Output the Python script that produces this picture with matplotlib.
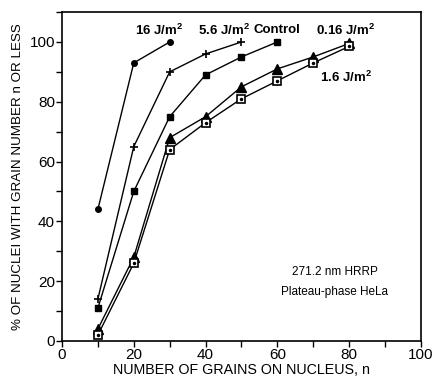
import matplotlib
matplotlib.use("Agg")
import matplotlib.pyplot as plt
from matplotlib.ticker import MultipleLocator

plt.rcParams['font.family'] = ['Liberation Sans', 'DejaVu Sans']
plt.rcParams['mathtext.default'] = 'regular'

x16 = [10, 20, 30]
y16 = [44, 93, 100]
x56 = [10, 20, 30, 40, 50]
y56 = [14, 65, 90, 96, 100]
xctl = [10, 20, 30, 40, 50, 60]
yctl = [11, 50, 75, 89, 95, 100]
x016 = [10, 20, 30, 40, 50, 60, 70, 80]
y016 = [4, 28, 68, 75, 85, 91, 95, 99.5]
x16b = [10, 20, 30, 40, 50, 60, 70, 80]
y16b = [2, 26, 64, 73, 81, 87, 93, 98.5]

series_labels = ["16 J/m$^2$", "5.6 J/m$^2$", "Control", "0.16 J/m$^2$", "1.6 J/m$^2$"]
label_pos = [(27, 104), (45, 104), (60, 104), (79, 104), (79, 88)]
xticks = [0, 20, 40, 60, 80, 100]
yticks = [0, 20, 40, 60, 80, 100]

fig = plt.figure(figsize=(4.35, 3.78), dpi=100)
ax = fig.add_axes([0.1425, 0.098, 0.825, 0.870])

lw = 1.0
ax.plot(x16, y16, '-', color='black', lw=lw, marker='o', ms=4, mfc='black')
ax.plot(x56, y56, '-', color='black', lw=lw, marker='+', ms=6, mew=1.2)
ax.plot(xctl, yctl, '-', color='black', lw=lw, marker='s', ms=5, mfc='black')
ax.plot(x016, y016, '-', color='black', lw=lw, marker='^', ms=7, mfc='black')
ax.plot(x16b, y16b, '-', color='black', lw=lw, marker='s', ms=5.5, mfc='white', mew=1.2)
ax.plot(x16b, y16b, color='black', marker='.', ms=3, ls='none')

for lab, (lx, ly) in zip(series_labels, label_pos):
    ax.text(lx, ly, lab, ha='center', va='center', fontsize=9.5, fontweight='bold')

ax.text(76, 23, "271.2 nm HRRP", ha='center', va='center', fontsize=8.5)
ax.text(76, 16.5, "Plateau-phase HeLa", ha='center', va='center', fontsize=8.5)

ax.set_xlim(0, 100)
ax.set_ylim(0, 110)
ax.set_xticks(xticks)
ax.set_yticks(yticks)
ax.xaxis.set_minor_locator(MultipleLocator(10))
ax.yaxis.set_minor_locator(MultipleLocator(10))
ax.tick_params(which='major', direction='out', length=4, width=1, labelsize=11, pad=1)
ax.tick_params(which='minor', direction='out', length=4, width=1)
for s in ax.spines.values():
    s.set_linewidth(1.2)

ax.set_xlabel("NUMBER OF GRAINS ON NUCLEUS, n", fontsize=10.3, labelpad=1)
ax.set_ylabel("% OF NUCLEI WITH GRAIN NUMBER n OR LESS", fontsize=9.6, labelpad=4)

fig.savefig("out.png", dpi=100)
